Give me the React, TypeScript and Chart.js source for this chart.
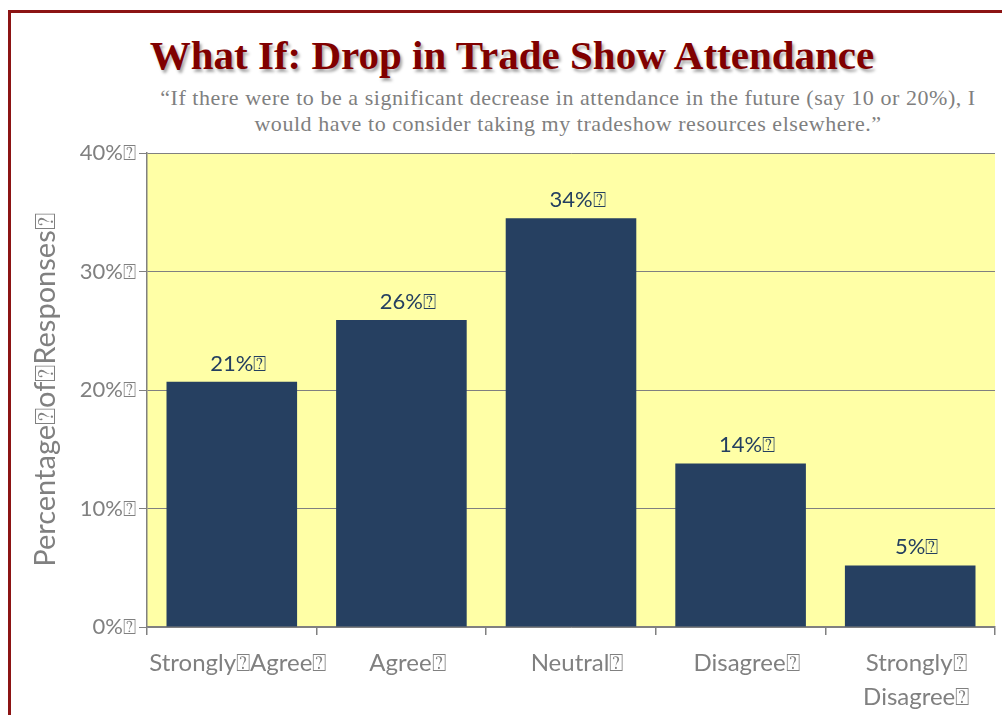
import React, { useEffect, useRef } from "react";
import { Chart, registerables } from "chart.js";

Chart.register(...registerables);

const BOX = "\u2370";
const categories: (string | string[])[] = [
  "Strongly" + BOX + "Agree" + BOX,
  "Agree" + BOX,
  "Neutral" + BOX,
  "Disagree" + BOX,
  ["Strongly" + BOX, "Disagree" + BOX],
];
const values = [20.7, 25.9, 34.5, 13.8, 5.2];
const valueLabels = ["21%", "26%", "34%", "14%", "5%"];
const titleText = "What If: Drop in Trade Show Attendance";
const subtitleLines = [
  "\u201CIf there were to be a significant decrease in attendance in the future (say 10 or 20%), I",
  "would have to consider taking my tradeshow resources elsewhere.\u201D",
];
const yAxisTitle = "Percentage" + BOX + "of" + BOX + "Responses" + BOX;

const GRAY = "#808080";
const AXISFONT = "Lato, 'Open Sans', sans-serif";

export default function App() {
  const ref = useRef<HTMLCanvasElement | null>(null);

  useEffect(() => {
    if (!ref.current) return;
    const bgPlugin = {
      id: "plotBg",
      beforeDraw(chart: any) {
        const { ctx, chartArea } = chart;
        ctx.save();
        ctx.fillStyle = "#FFFFA6";
        ctx.fillRect(chartArea.left, chartArea.top, chartArea.right - chartArea.left, chartArea.bottom - chartArea.top);
        ctx.restore();
      },
    };
    const labelPlugin = {
      id: "valueLabels",
      afterDatasetsDraw(chart: any) {
        const { ctx } = chart;
        const meta = chart.getDatasetMeta(0);
        ctx.save();
        ctx.font = "22px " + AXISFONT;
        ctx.fillStyle = "#243F60";
        ctx.textBaseline = "alphabetic";
        ctx.textAlign = "left";
        meta.data.forEach((bar: any, i: number) => {
          const txt = valueLabels[i];
          const w = ctx.measureText(txt).width;
          ctx.fillText(txt + BOX, bar.x - w / 2, bar.y - 11);
        });
        ctx.restore();
      },
    };
    const chart = new Chart(ref.current, {
      type: "bar",
      data: {
        labels: categories,
        datasets: [
          {
            data: values,
            backgroundColor: "#264061",
            borderWidth: 0,
            barPercentage: 0.77,
            categoryPercentage: 1,
          },
        ],
      },
      options: {
        responsive: false,
        animation: false,
        layout: { padding: { top: 153, right: 7, bottom: 0, left: 0 } },
        plugins: {
          legend: { display: false },
          tooltip: { enabled: false },
        },
        scales: {
          x: {
            afterFit: (s: any) => {
              s.height = 88;
            },
            border: { color: GRAY, width: 1.5 },
            grid: { drawOnChartArea: false, drawTicks: true, tickLength: 8, color: GRAY, lineWidth: 1.5 },
            ticks: {
              color: GRAY,
              font: { family: AXISFONT, size: 24, lineHeight: 1.42 },
              maxRotation: 0,
              minRotation: 0,
              autoSkip: false,
              labelOffset: 6,
              padding: 11,
            },
          },
          y: {
            min: 0,
            max: 40,
            afterFit: (s: any) => {
              s.width = 147;
            },
            border: { color: GRAY, width: 1.5 },
            grid: { color: GRAY, lineWidth: 1, tickLength: 8, drawTicks: true },
            ticks: {
              stepSize: 10,
              color: GRAY,
              padding: 3,
              font: { family: AXISFONT, size: 22 },
              callback: (v: any) => v + "%" + BOX,
            },
            title: {
              display: true,
              text: yAxisTitle,
              color: GRAY,
              font: { family: AXISFONT, size: 29 },
              padding: { top: 28, bottom: 0 },
            },
          },
        },
      },
      plugins: [bgPlugin, labelPlugin],
    });
    return () => chart.destroy();
  }, []);

  return (
    <div style={{ position: "fixed", left: 0, top: 0, width: 1002, height: 715, overflow: "hidden", background: "#fff" }}>
      <div
        style={{
          position: "absolute",
          left: 8,
          top: 10,
          width: 1100,
          height: 800,
          border: "3px solid #8C1414",
        }}
      />
      <div
        style={{
          position: "absolute",
          left: 0,
          width: 1024,
          top: 30,
          textAlign: "center",
          fontFamily: "'Liberation Serif', serif",
          fontWeight: "bold",
          fontSize: 41,
          lineHeight: "50px",
          color: "#800000",
          textShadow: "2px 3px 3px rgba(0,0,0,0.35)",
          whiteSpace: "nowrap",
        }}
      >
        {titleText}
      </div>
      <div
        style={{
          position: "absolute",
          left: 0,
          width: 1136,
          top: 85,
          textAlign: "center",
          fontFamily: "'Liberation Serif', serif",
          fontSize: 22,
          letterSpacing: "0.55px",
          lineHeight: "26px",
          color: "#7F7F7F",
          whiteSpace: "nowrap",
        }}
      >
        {subtitleLines.map((l, i) => (
          <div key={i}>{l}</div>
        ))}
      </div>
      <canvas ref={ref} width={1002} height={715} style={{ position: "absolute", left: 0, top: 0 }} />
    </div>
  );
}
